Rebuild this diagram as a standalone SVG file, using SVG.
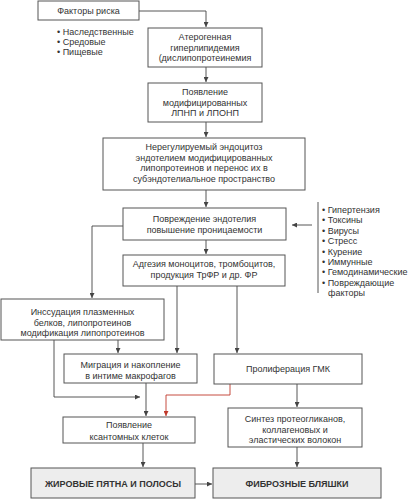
<svg xmlns="http://www.w3.org/2000/svg" width="410" height="500" viewBox="0 0 410 500">
<defs>
<marker id="a" viewBox="0 0 6 6" refX="6" refY="3" markerWidth="5" markerHeight="5" orient="auto" markerUnits="userSpaceOnUse"><path d="M0,0 L6,3 L0,6 z" fill="#444"/></marker>
<marker id="ar" viewBox="0 0 6 6" refX="6" refY="3" markerWidth="5" markerHeight="5" orient="auto" markerUnits="userSpaceOnUse"><path d="M0,0 L6,3 L0,6 z" fill="#c0392b"/></marker>
</defs>
<style>
rect{fill:#fff;stroke:#555;stroke-width:1}
rect.fin{fill:#ededed}
text{font-family:"Liberation Sans",Arial,sans-serif;font-size:9px;fill:#333}
text.c{text-anchor:middle}
text.b{font-weight:bold;font-size:9px}
.ln{fill:none;stroke:#444;stroke-width:0.9}
.red{fill:none;stroke:#c0392b;stroke-width:0.9}
</style>
<rect width="410" height="500" style="fill:#fff;stroke:none"/>
<g id="connectors">
<path class="ln" d="M139,11 H206 V27" marker-end="url(#a)"/>
<path class="ln" d="M206,67 V82" marker-end="url(#a)"/>
<path class="ln" d="M206,122 V137" marker-end="url(#a)"/>
<path class="ln" d="M206,190 V207" marker-end="url(#a)"/>
<path class="ln" d="M206,240 V254" marker-end="url(#a)"/>
<path class="ln" d="M123,226 H92 V298" marker-end="url(#a)"/>
<path class="ln" d="M312,225 H292" marker-end="url(#a)"/>
<path class="ln" d="M318,202 V293"/>
<path class="ln" d="M118,340 V353" marker-end="url(#a)"/>
<path class="ln" d="M177,286 V353" marker-end="url(#a)"/>
<path class="ln" d="M237,286 V353" marker-end="url(#a)"/>
<path class="ln" d="M54,340 V397 H140" marker-end="url(#a)"/>
<path class="ln" d="M146,383 V416" marker-end="url(#a)"/>
<path class="red" d="M230,384 V395 H166 V416" marker-end="url(#ar)"/>
<path class="ln" d="M297,384 V407" marker-end="url(#a)"/>
<path class="ln" d="M143,443 V467" marker-end="url(#a)"/>
<path class="ln" d="M297,447 V467" marker-end="url(#a)"/>
<path class="ln" d="M195,484 H212" marker-end="url(#a)"/>
</g>
<g id="n1"><rect x="38" y="1" width="101" height="19"/><text class="c" x="88.5" y="14">Факторы риска</text></g>
<g id="risk-list">
<text x="57" y="35">• Наследственные</text>
<text x="57" y="45">• Средовые</text>
<text x="57" y="55">• Пищевые</text>
</g>
<g id="n2"><rect x="148" y="28" width="114" height="39"/>
<text class="c" x="205" y="40">Атерогенная</text><text class="c" x="205" y="50.5">гиперлипидемия</text><text class="c" x="205" y="61">(дислипопротеинемия</text></g>
<g id="n3"><rect x="148" y="83" width="114" height="39"/>
<text class="c" x="205" y="95">Появление</text><text class="c" x="205" y="105.5">модифицированных</text><text class="c" x="205" y="116">ЛПНП и ЛПОНП</text></g>
<g id="n4"><rect x="103" y="138" width="202" height="52"/>
<text class="c" x="204" y="150">Нерегулируемый эндоцитоз</text><text class="c" x="204" y="160.5">эндотелием модифицированных</text><text class="c" x="204" y="171">липопротеинов и перенос их в</text><text class="c" x="204" y="181.5">субэндотелиальное пространство</text></g>
<g id="n5"><rect x="123" y="208" width="163" height="32"/>
<text class="c" x="204.5" y="222">Повреждение эндотелия</text><text class="c" x="204.5" y="232.5">повышение проницаемости</text></g>
<g id="damage-list">
<text x="322" y="213">• Гипертензия</text>
<text x="322" y="223.4">• Токсины</text>
<text x="322" y="233.8">• Вирусы</text>
<text x="322" y="244.2">• Стресс</text>
<text x="322" y="254.6">• Курение</text>
<text x="322" y="265">• Иммунные</text>
<text x="322" y="275.4">• Гемодинамические</text>
<text x="322" y="285.8">• Повреждающие</text>
<text x="328" y="296.2">факторы</text>
</g>
<g id="n6"><rect x="123" y="255" width="162" height="31"/>
<text class="c" x="204" y="267">Адгезия моноцитов, тромбоцитов,</text><text class="c" x="204" y="278">продукция ТрФР и др. ФР</text></g>
<g id="n7"><rect x="1" y="299" width="163" height="41"/>
<text class="c" x="82.5" y="315">Инссудация плазменных</text><text class="c" x="82.5" y="325.5">белков, липопротеинов</text><text class="c" x="82.5" y="336">модификация липопротеинов</text></g>
<g id="n8"><rect x="64" y="354" width="133" height="29"/>
<text class="c" x="130.5" y="368">Миграция и накопление</text><text class="c" x="130.5" y="378.5">в интиме макрофагов</text></g>
<g id="n9"><rect x="214" y="354" width="148" height="30"/>
<text class="c" x="288" y="372">Пролиферация ГМК</text></g>
<g id="n10"><rect x="63" y="417" width="132" height="26"/>
<text class="c" x="129" y="428">Появление</text><text class="c" x="129" y="440">ксантомных клеток</text></g>
<g id="n11"><rect x="228" y="408" width="134" height="39"/>
<text class="c" x="295" y="422">Синтез протеогликанов,</text><text class="c" x="295" y="432.5">коллагеновых и</text><text class="c" x="295" y="443">эластических волокон</text></g>
<g id="n12"><rect class="fin" x="31" y="468" width="164" height="30"/>
<text class="c b" x="113" y="487">ЖИРОВЫЕ ПЯТНА И ПОЛОСЫ</text></g>
<g id="n13"><rect class="fin" x="213" y="468" width="168" height="30"/>
<text class="c b" x="297" y="487">ФИБРОЗНЫЕ БЛЯШКИ</text></g>
</svg>
